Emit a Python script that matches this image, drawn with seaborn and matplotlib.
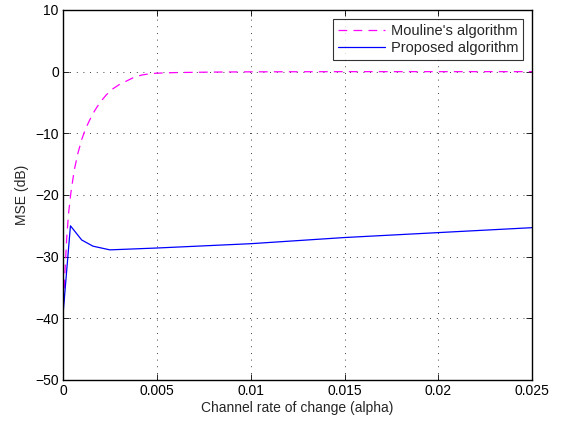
import numpy as np
import pandas as pd
import matplotlib
matplotlib.use("Agg")
import matplotlib.pyplot as plt
import seaborn as sns

# Data
mouline_alpha = [0.0, 0.0001, 0.0002, 0.0003, 0.00042, 0.0006, 0.0008, 0.001,
                 0.0012, 0.0014, 0.0016, 0.0018, 0.002, 0.0023, 0.0026, 0.003,
                 0.0034, 0.0038, 0.0042, 0.0046, 0.005, 0.006, 0.008, 0.01,
                 0.015, 0.02, 0.025]
mouline_mse = [-40.0, -33.0, -27.0, -23.0, -19.7, -16.0, -13.2, -11.0,
               -9.3, -8.0, -6.8, -5.8, -4.9, -3.8, -2.9, -2.1,
               -1.5, -0.9, -0.55, -0.35, -0.25, -0.15, -0.07, -0.03,
               0.0, 0.0, 0.0]

proposed_alpha = [0.0, 0.0004, 0.001, 0.0016, 0.0025, 0.005, 0.01, 0.015, 0.02, 0.025]
proposed_mse = [-39.5, -25.0, -27.3, -28.3, -28.9, -28.6, -27.9, -26.9, -26.1, -25.3]

labels = ["Mouline's algorithm", "Proposed algorithm"]
x_ticks = [0, 0.005, 0.01, 0.015, 0.02, 0.025]
x_ticklabels = ["0", "0.005", "0.01", "0.015", "0.02", "0.025"]
y_ticks = [-50, -40, -30, -20, -10, 0, 10]

sns.set_theme(style="white")
plt.rcParams['font.family'] = ['Liberation Sans', 'DejaVu Sans']

fig = plt.figure(figsize=(5.62, 4.23), dpi=100)
ax = fig.add_axes([0.112, 0.1017, 0.835, 0.8747])

df1 = pd.DataFrame({"alpha": mouline_alpha, "mse": mouline_mse})
df2 = pd.DataFrame({"alpha": proposed_alpha, "mse": proposed_mse})
sns.lineplot(data=df1, x="alpha", y="mse", ax=ax, color="#ff00ff",
             linestyle=(0, (7, 5)), linewidth=0.9, label=labels[0])
sns.lineplot(data=df2, x="alpha", y="mse", ax=ax, color="#0000ff",
             linewidth=0.9, label=labels[1])

ax.set_xlim(0, 0.025)
ax.set_ylim(-50, 10)
ax.set_xticks(x_ticks)
ax.set_xticklabels(x_ticklabels)
ax.set_yticks(y_ticks)
ax.set_yticklabels([str(v).replace("-", "\u2212") for v in y_ticks])
ax.set_xlabel("Channel rate of change (alpha)", fontsize=10, labelpad=2)
ax.set_ylabel("MSE (dB)", fontsize=10, labelpad=4)

ax.grid(True, color="black", linestyle=(0, (1, 7)), linewidth=0.6)
for s in ax.spines.values():
    s.set_visible(True)
    s.set_color("black")
    s.set_linewidth(1.0)
ax.tick_params(direction="in", length=4, width=0.6, top=True, right=True,
               bottom=True, left=True, labelsize=10, colors="black", pad=3)

leg = ax.legend(loc="upper right", fontsize=10.5, frameon=True, fancybox=False,
                handlelength=3.2, borderpad=0.35, labelspacing=0.2,
                borderaxespad=0.6, handletextpad=0.4)
leg.get_frame().set_edgecolor("black")
leg.get_frame().set_linewidth(0.8)

fig.savefig("out.png", dpi=100)
